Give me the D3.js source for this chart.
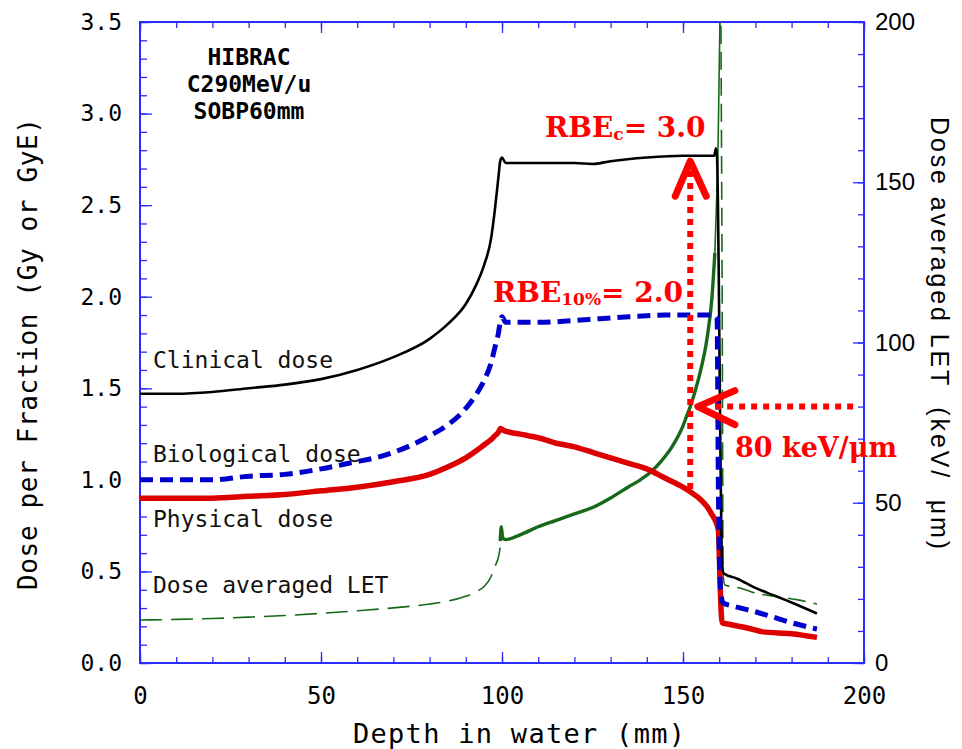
<!DOCTYPE html>
<html><head><meta charset="utf-8">
<script src="https://cdn.jsdelivr.net/npm/d3@7"></script>
<style>html,body{margin:0;padding:0;background:#fff;}svg{display:block;}</style>
</head><body>
<svg id="chart" width="962" height="749"></svg>
<script>
// ---------------- data ----------------
const depthClinical = [0,10,20,30,40,50,60,70,80,85,90,93,95,97,98,99,99.5,100,101,110,120,125,130,140,150,155,158.6,159.1,159.4,160.8,161.2,165,170,175,180,187];
const clinical      = [1.47,1.47,1.48,1.50,1.52,1.55,1.60,1.67,1.77,1.85,1.96,2.07,2.17,2.32,2.47,2.65,2.74,2.76,2.73,2.73,2.73,2.725,2.74,2.76,2.77,2.77,2.77,2.81,2.76,0.55,0.49,0.46,0.41,0.37,0.33,0.27];

const depthBio = [0,10,20,30,40,50,60,65,70,75,80,85,90,93,95,97,98,99,99.5,100,101,110,120,127,135,145,155,158.5,159.4,159.8,160.4,161,164,170,175,180,187];
const bio      = [1.00,1.00,1.00,1.02,1.03,1.06,1.10,1.12,1.15,1.19,1.24,1.30,1.39,1.47,1.54,1.64,1.72,1.80,1.86,1.89,1.86,1.86,1.87,1.88,1.89,1.90,1.90,1.90,1.89,0.90,0.40,0.33,0.31,0.28,0.25,0.22,0.185];

const depthPhys = [0,10,20,30,40,50,60,70,80,85,90,93,95,97,98,99,99.6,100.5,105,110,115,120,125,130,135,140,145,150,152,155,156.6,158,159.3,159.8,160.3,160.8,163,168,172,180,187];
const phys      = [0.90,0.90,0.90,0.91,0.92,0.94,0.96,0.99,1.03,1.07,1.12,1.16,1.19,1.22,1.24,1.26,1.28,1.27,1.25,1.23,1.20,1.18,1.15,1.12,1.09,1.06,1.01,0.96,0.935,0.89,0.855,0.81,0.76,0.72,0.40,0.22,0.21,0.19,0.17,0.16,0.14];

// dose averaged LET (keV/um), entrance (dashed), SOBP (solid), peak + distal
const letDepthA = [0,10,20,30,40,50,60,70,80,85,90,93,95,97,98,99,99.5];
const letA      = [13.4,13.6,13.9,14.3,14.8,15.5,16.3,17.2,18.4,19.3,20.8,22.3,23.8,27,30,33,36];
const letDepthB = [99.5,99.8,100.2,101,105,110,115,120,125,130,135,138,141,144,147,149,150,151,152,153,154.7,156.6,158,158.8];
const letB      = [38,42.5,39,38.5,40,42.5,44.5,46.5,48.5,51.5,55,57,59.5,63,67.5,71.5,74,77,80,83.5,90.5,101,114,128];
const letDepthC = [158.8,159.3,159.7,160,160.4];
const letC      = [128,145,162,185,215];
const letDepthD = [160.4,160.8,161.1,161.6,165.7,170,176.8,181.8,187];
const letD      = [215,120,27,24.3,23.4,21.8,20.6,19.7,18.4];

// axis ticks
const xMajor = [0,50,100,150,200];
const xMinor = d3.range(0,201,10);
const yMajor = [0,0.5,1.0,1.5,2.0,2.5,3.0,3.5];
const yMinor = d3.range(0,36).map(i => i/10);
const rMajor = [0,50,100,150,200];
const rMinor = d3.range(0,201,10);

// annotations (data coordinates)
const rbeArrow  = {depth:152, from:0.95, to:2.74};
const letArrow  = {let:80, from:197, to:154.1};
const beamInfo  = ["HIBRAC","C290MeV/u","SOBP60mm"];
const curveLabels = [
  {text:"Clinical dose", y:1.61},
  {text:"Biological dose", y:1.10},
  {text:"Physical dose", y:0.74},
  {text:"Dose averaged LET", y:0.38}
];

// ---------------- drawing ----------------
const svg = d3.select("#chart");
const pLeft=140, pRight=864, pTop=22, pBottom=663;
const x  = d3.scaleLinear().domain([0,200]).range([pLeft,pRight]);
const yL = d3.scaleLinear().domain([0,3.5]).range([pBottom,pTop]);
const yR = d3.scaleLinear().domain([0,200]).range([pBottom,pTop]);

const axisColor = "#2b2bff";
const mono = "'DejaVu Sans Mono', monospace";

svg.append("rect").attr("width",962).attr("height",749).attr("fill","#fff");

svg.append("defs").append("clipPath").attr("id","plotclip")
  .append("rect").attr("x",pLeft).attr("y",pTop).attr("width",pRight-pLeft).attr("height",pBottom-pTop);

function styleAxis(g){
  g.select(".domain").remove();
  g.selectAll(".tick line").attr("stroke",axisColor).attr("stroke-width",1.3);
  g.selectAll(".tick text").attr("fill","#000");
}
let g = svg.append("g").attr("transform",`translate(${pLeft},0)`)
  .call(d3.axisLeft(yL).tickValues(yMinor).tickSize(-7).tickFormat(""));
styleAxis(g);
g = svg.append("g").attr("transform",`translate(${pLeft},0)`)
  .call(d3.axisLeft(yL).tickValues(yMajor).tickSize(-12).tickPadding(18).tickFormat(d3.format(".1f")));
styleAxis(g);
g.selectAll("text").attr("font-family",mono).attr("font-size",23);

g = svg.append("g").attr("transform",`translate(0,${pBottom})`)
  .call(d3.axisBottom(x).tickValues(xMinor).tickSize(-6).tickFormat(""));
styleAxis(g);
g = svg.append("g").attr("transform",`translate(0,${pBottom})`)
  .call(d3.axisBottom(x).tickValues(xMajor).tickSize(-11).tickPadding(24).tickFormat(d3.format("d")));
styleAxis(g);
g.selectAll("text").attr("font-family",mono).attr("font-size",24);

g = svg.append("g").attr("transform",`translate(0,${pTop})`)
  .call(d3.axisTop(x).tickValues(xMinor).tickSize(-6).tickFormat(""));
styleAxis(g);
g = svg.append("g").attr("transform",`translate(0,${pTop})`)
  .call(d3.axisTop(x).tickValues(xMajor).tickSize(-11).tickFormat(""));
styleAxis(g);

g = svg.append("g").attr("transform",`translate(${pRight},0)`)
  .call(d3.axisRight(yR).tickValues(rMinor).tickSize(-6).tickFormat(""));
styleAxis(g);
g = svg.append("g").attr("transform",`translate(${pRight},0)`)
  .call(d3.axisRight(yR).tickValues(rMajor).tickSize(-11).tickPadding(11).tickFormat(d3.format("d")));
styleAxis(g);
g.selectAll("text").attr("font-family","'Liberation Sans', Arial, sans-serif").attr("font-size",24);

svg.append("rect").attr("x",pLeft).attr("y",pTop).attr("width",pRight-pLeft).attr("height",pBottom-pTop)
  .attr("fill","none").attr("stroke",axisColor).attr("stroke-width",2);

// axis titles
svg.append("text").attr("x",(pLeft+pRight)/2+17).attr("y",743).attr("text-anchor","middle")
  .attr("font-family",mono).attr("font-size",27).attr("textLength",332).attr("lengthAdjust","spacing")
  .text("Depth in water (mm)");
svg.append("text").attr("transform","translate(37,354) rotate(-90)").attr("text-anchor","middle")
  .attr("font-family",mono).attr("font-size",26).attr("textLength",472).attr("lengthAdjust","spacing")
  .text("Dose per Fraction (Gy or GyE)");
svg.append("text").attr("transform","translate(931,333) rotate(90)").attr("text-anchor","middle")
  .attr("font-family","'Liberation Sans', Arial, sans-serif").attr("font-size",25)
  .attr("textLength",432).attr("lengthAdjust","spacing").style("white-space","pre")
  .text("Dose averaged LET  (keV/  μm)");

// curves
const plot = svg.append("g").attr("clip-path","url(#plotclip)");
function drawLine(xs, ys, yScale, color, width, dash){
  const pts = xs.map((d,i)=>[d, ys[i]]);
  plot.append("path").datum(pts)
    .attr("d", d3.line().curve(d3.curveMonotoneX).x(d=>x(d[0])).y(d=>yScale(d[1])))
    .attr("fill","none").attr("stroke",color).attr("stroke-width",width)
    .attr("stroke-dasharray",dash||null).attr("stroke-linejoin","round");
}
const green = "#17691a";
drawLine(letDepthA, letA, yR, green, 1.6, "22,9");
drawLine(letDepthB, letB, yR, green, 3.4);
drawLine(letDepthC, letC, yR, green, 1.6);
drawLine(letDepthD, letD, yR, green, 1.6, "18,8");
drawLine(depthPhys, phys, yL, "#dd0000", 5.5);
drawLine(depthClinical, clinical, yL, "#000", 2.6);
drawLine(depthBio, bio, yL, "#0000cc", 5, "13,7");

// beam info
svg.append("g").selectAll("text").data(beamInfo).join("text")
  .attr("x",249).attr("y",(d,i)=>65+i*27).attr("text-anchor","middle")
  .attr("font-family",mono).attr("font-size",23).attr("font-weight","bold")
  .text(d=>d);

// curve labels
svg.append("g").selectAll("text").data(curveLabels).join("text")
  .attr("x",153).attr("y",d=>yL(d.y)).attr("font-family",mono).attr("font-size",23)
  .attr("fill","#111").style("white-space","pre").text(d=>d.text);

// red arrows
const red = "#ff0000";
const ann = svg.append("g");
ann.append("line").attr("x1",x(rbeArrow.depth)).attr("x2",x(rbeArrow.depth))
  .attr("y1",yL(rbeArrow.from)).attr("y2",yL(rbeArrow.to)+9)
  .attr("stroke",red).attr("stroke-width",6).attr("stroke-dasharray","6,6");
ann.append("path")
  .attr("d", d3.line()([[x(rbeArrow.depth)-15, yL(rbeArrow.to)+35],[x(rbeArrow.depth), yL(rbeArrow.to)],[x(rbeArrow.depth)+16, yL(rbeArrow.to)+35]]))
  .attr("fill","none").attr("stroke",red).attr("stroke-width",7).attr("stroke-linecap","round").attr("stroke-linejoin","round");
ann.append("line").attr("y1",yR(letArrow.let)).attr("y2",yR(letArrow.let))
  .attr("x1",x(letArrow.from)).attr("x2",x(letArrow.to)+16)
  .attr("stroke",red).attr("stroke-width",6).attr("stroke-dasharray","6,6");
ann.append("path")
  .attr("d", d3.line()([[x(letArrow.to)+37, yR(letArrow.let)-16],[x(letArrow.to), yR(letArrow.let)],[x(letArrow.to)+37, yR(letArrow.let)+18]]))
  .attr("fill","none").attr("stroke",red).attr("stroke-width",7).attr("stroke-linecap","round").attr("stroke-linejoin","round");

const serif = "'DejaVu Serif', serif";
function rbeText(xp, yp, sub, rest){
  const t = ann.append("text").attr("x",xp).attr("y",yp).attr("font-family",serif)
    .attr("font-weight","bold").attr("font-size",28).attr("fill",red);
  t.append("tspan").text("RBE");
  t.append("tspan").attr("font-size",17).attr("dy",3).text(sub);
  t.append("tspan").attr("dy",-3).text(rest);
}
rbeText(545,137,"c","= 3.0");
rbeText(493,302,"10%","= 2.0");
ann.append("text").attr("x",735).attr("y",457).attr("font-family",serif).attr("font-weight","bold")
  .attr("font-size",27).attr("fill",red).text("80 keV/μm");
</script>
</body></html>
